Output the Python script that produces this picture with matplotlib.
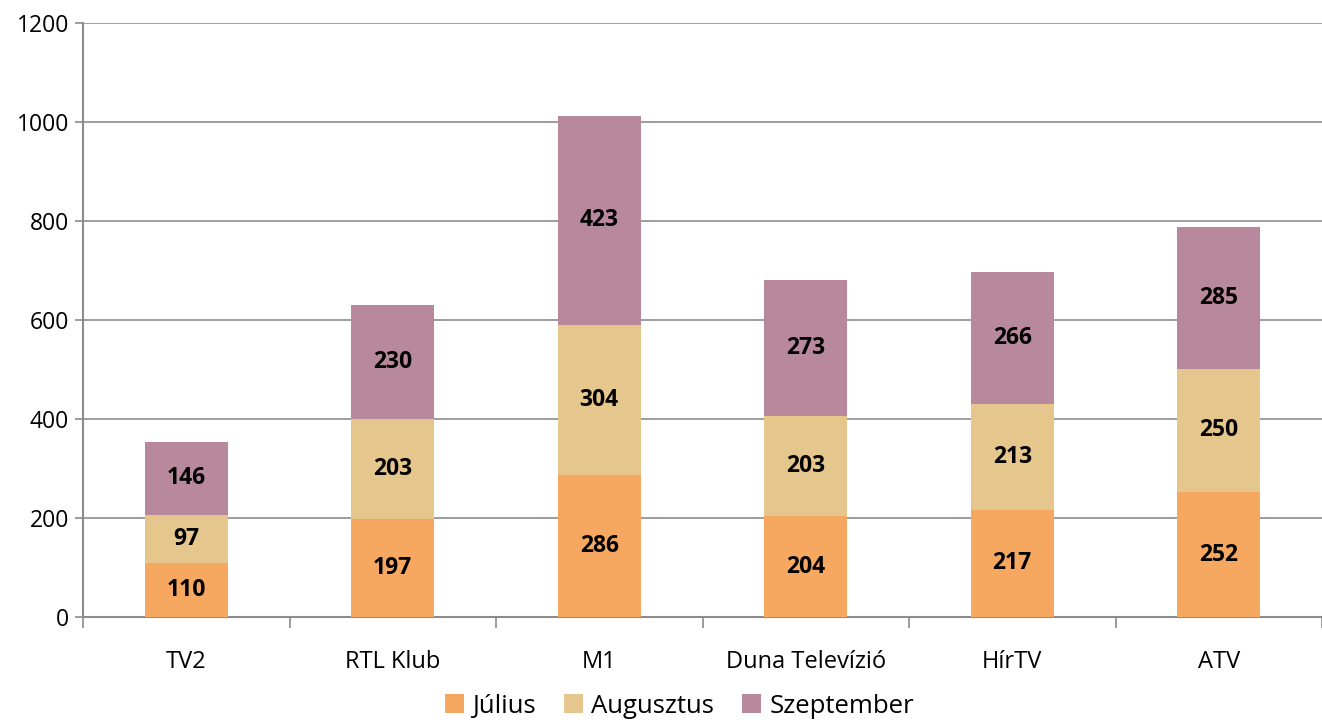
import numpy as np
import matplotlib.pyplot as plt
from matplotlib.patches import Patch

channels = ["TV2", "RTL Klub", "M1", "Duna Televízió", "HírTV", "ATV"]
julius = [110, 197, 286, 204, 217, 252]
augusztus = [97, 203, 304, 203, 213, 250]
szeptember = [146, 230, 423, 273, 266, 285]
series_names = ["Július", "Augusztus", "Szeptember"]
colors = ["#F6A860", "#E5C68C", "#B8889C"]
y_ticks = [0, 200, 400, 600, 800, 1000, 1200]

plt.rcParams["font.family"] = ["Open Sans", "DejaVu Sans"]

fig = plt.figure(figsize=(13.22, 7.22), dpi=100)
ax = fig.add_axes([83 / 1322, 1 - 617 / 722, 1 - 83 / 1322, 594 / 722])

x = np.arange(len(channels))
bottom = np.zeros(len(channels))
for values, color in zip([julius, augusztus, szeptember], colors):
    ax.bar(x, values, width=0.4, bottom=bottom, color=color, zorder=3)
    for xi, b, v in zip(x, bottom, values):
        ax.text(xi, b + v / 2, str(v), ha="center", va="center",
                fontsize=16.5, fontweight="bold", color="black", zorder=4)
    bottom = bottom + np.array(values)

ax.set_xlim(-0.5, len(channels) - 0.5 - 9 / 208)
ax.set_ylim(0, 1200)
ax.set_yticks(y_ticks)
ax.set_yticklabels([str(t) for t in y_ticks], fontsize=16.5)
ax.yaxis.grid(True, color="#8c8c8c", linewidth=1.2, zorder=0)
ax.set_axisbelow(True)

ax.set_xticks(np.arange(len(channels) + 1) - 0.5)
ax.set_xticklabels([])
ax.set_xticks(x, minor=True)
ax.set_xticklabels(channels, minor=True, fontsize=17)
ax.tick_params(axis="x", which="major", length=8, width=1.2, color="#8c8c8c", direction="out")
ax.tick_params(axis="x", which="minor", length=0, pad=24)
ax.tick_params(axis="y", length=6, width=1.2, color="#8c8c8c", pad=4)

for side in ["top", "right"]:
    ax.spines[side].set_visible(False)
for side in ["left", "bottom"]:
    ax.spines[side].set_color("#8c8c8c")
    ax.spines[side].set_linewidth(1.5)

handles = [Patch(facecolor=c, edgecolor="none") for c in colors]
fig.legend(handles, series_names, loc="upper center", bbox_to_anchor=(0.514, 1 - 681 / 722),
           ncol=3, frameon=False, fontsize=18.5, handlelength=0.75, handleheight=0.75,
           handletextpad=0.3, columnspacing=1.1, borderpad=0)

fig.savefig("out.png", dpi=100)
